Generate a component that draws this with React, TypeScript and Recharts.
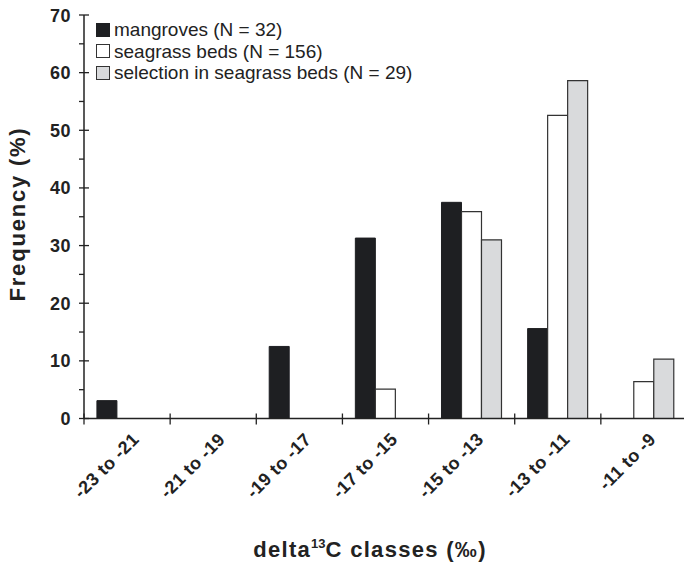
import React from "react";
import { BarChart, Bar, XAxis, YAxis } from "recharts";

const classes = ["-23 to -21", "-21 to -19", "-19 to -17", "-17 to -15", "-15 to -13", "-13 to -11", "-11 to -9"];
const mangroves = [3.1, 0, 12.5, 31.3, 37.5, 15.6, 0];
const seagrass = [0, 0, 0, 5.1, 35.9, 52.6, 6.4];
const selection = [0, 0, 0, 0, 31.0, 58.6, 10.3];
const yTicks = [0, 5, 10, 15, 20, 25, 30, 35, 40, 45, 50, 55, 60, 65, 70];

const legendItems = [
  { label: "mangroves (N = 32)", fill: "#1e1f22", stroke: "#1e1f22" },
  { label: "seagrass beds (N = 156)", fill: "#ffffff", stroke: "#333" },
  { label: "selection in seagrass beds (N = 29)", fill: "#d9dadc", stroke: "#333" },
];

const data = classes.map((c, i) => ({
  cls: c,
  mangroves: mangroves[i],
  seagrass: seagrass[i],
  selection: selection[i],
}));

const FONT = "'Liberation Sans', Arial, sans-serif";
const AXIS = "#222";

const YTick = (props: any) => {
  const { x, y, payload } = props;
  const major = payload.value % 10 === 0;
  return (
    <g>
      <line x1={x - 5} x2={major ? x + 5 : x} y1={y} y2={y} stroke={AXIS} strokeWidth={1.3} />
      {major && (
        <text x={x - 13} y={y + 6.5} textAnchor="end" fontFamily={FONT} fontWeight="bold" fontSize={18} letterSpacing={0.5} fill="#222">
          {payload.value}
        </text>
      )}
    </g>
  );
};

const XTick = (props: any) => {
  const { x, y, payload } = props;
  const left = x - (payload.offset || 0);
  const ax = x + 13;
  const ay = y + 22;
  return (
    <g>
      <line x1={left} x2={left} y1={y - 5} y2={y + 6} stroke={AXIS} strokeWidth={1.3} />
      <text
        x={ax}
        y={ay}
        textAnchor="end"
        transform={`rotate(-45 ${ax} ${ay})`}
        fontFamily={FONT}
        fontWeight="bold"
        fontSize={18}
        letterSpacing={0.4}
        fill="#222"
      >
        {payload.value}
      </text>
    </g>
  );
};

const LegendBox = () => (
  <div
    style={{
      position: "absolute",
      left: 96,
      top: 19,
      fontFamily: FONT,
      fontSize: 19,
      color: "#222",
      lineHeight: "21.5px",
      whiteSpace: "nowrap",
    }}
  >
    {legendItems.map((it) => (
      <div key={it.label} style={{ display: "flex", alignItems: "center" }}>
        <span
          style={{
            display: "inline-block",
            width: 12,
            height: 12,
            background: it.fill,
            border: `1px solid ${it.stroke}`,
            marginRight: 4,
          }}
        />
        {it.label}
      </div>
    ))}
  </div>
);

export default function App() {
  return (
    <div style={{ position: "absolute", left: 0, top: 0, width: 684, height: 563, overflow: "hidden", background: "#fff" }}>
      <BarChart
        width={690}
        height={563}
        data={data}
        margin={{ top: 15, right: 3, left: 0, bottom: 0 }}
        barCategoryGap="15%"
        barGap={0}
      >
        <XAxis
          dataKey="cls"
          height={144.5}
          tick={<XTick />}
          tickLine={false}
          tickSize={0}
          tickMargin={0}
          interval={0}
          axisLine={{ stroke: AXIS, strokeWidth: 1.5 }}
          label={{
            content: () => (
              <text x={370} y={557} textAnchor="middle" fontFamily={FONT} fontWeight="bold" fontSize={22} letterSpacing={1.3} fill="#222">
                delta
                <tspan dy={-9} fontSize={13} letterSpacing={0}>13</tspan>
                <tspan dy={9}>C classes (‰)</tspan>
              </text>
            ),
          }}
        />
        <YAxis
          width={84}
          domain={[0, 70]}
          ticks={yTicks}
          interval={0}
          tick={<YTick />}
          tickLine={false}
          tickSize={0}
          tickMargin={0}
          axisLine={{ stroke: AXIS, strokeWidth: 1.5 }}
          label={{
            content: () => (
              <text
                x={25}
                y={214}
                textAnchor="middle"
                transform="rotate(-90 25 214)"
                fontFamily={FONT}
                fontWeight="bold"
                fontSize={22}
                letterSpacing={1.8}
                fill="#222"
              >
                Frequency (%)
              </text>
            ),
          }}
        />
        <Bar dataKey="mangroves" fill="#1e1f22" stroke="#1e1f22" strokeWidth={1} isAnimationActive={false} />
        <Bar dataKey="seagrass" fill="#ffffff" stroke="#333" strokeWidth={1.2} isAnimationActive={false} />
        <Bar dataKey="selection" fill="#d9dadc" stroke="#333" strokeWidth={1.2} isAnimationActive={false} />
      </BarChart>
      <LegendBox />
    </div>
  );
}
